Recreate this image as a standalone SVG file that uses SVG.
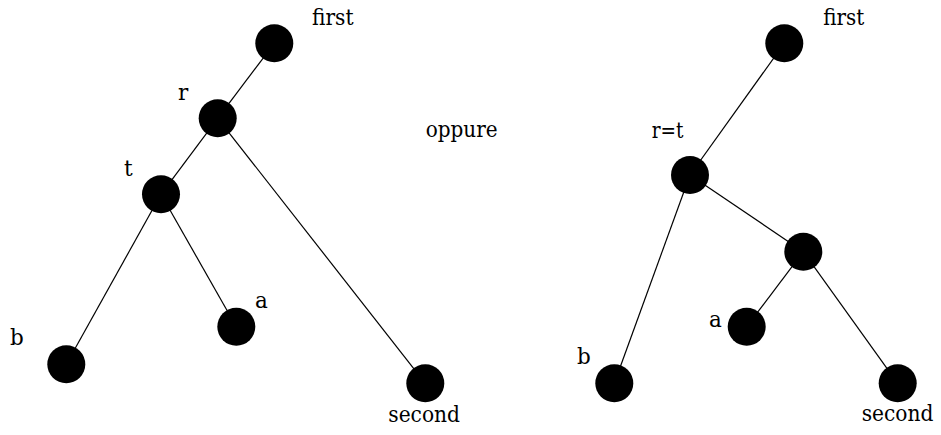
<svg xmlns="http://www.w3.org/2000/svg" width="941" height="435" viewBox="0 0 941 435">
<style>
.n{fill:#000}
.e line{stroke:#000;stroke-width:1.2}
.t text{font-family:"DejaVu Serif","Liberation Serif",serif;font-size:21.5px;fill:#000}
</style>
<rect width="941" height="435" fill="#fff"/>
<g class="e" id="connectors">
<line x1="274.3" y1="43.3" x2="217.7" y2="118.3"/>
<line x1="217.7" y1="118.3" x2="161" y2="194.3"/>
<line x1="217.7" y1="118.3" x2="425.3" y2="383.3"/>
<line x1="161" y1="194.3" x2="66.3" y2="364.3"/>
<line x1="161" y1="194.3" x2="236.3" y2="326.7"/>
<line x1="784.3" y1="43.3" x2="690" y2="175"/>
<line x1="690" y1="175" x2="614.3" y2="383.3"/>
<line x1="690" y1="175" x2="803.3" y2="251.7"/>
<line x1="803.3" y1="251.7" x2="746.7" y2="326.7"/>
<line x1="803.3" y1="251.7" x2="897.7" y2="383.3"/>
</g>
<g class="t">
<g id="L-first"><circle class="n" cx="274.3" cy="43.3" r="19"/><text x="312" y="25" textLength="41.5" lengthAdjust="spacingAndGlyphs">first</text></g>
<g id="L-r"><circle class="n" cx="217.7" cy="118.3" r="19"/><text x="178" y="100">r</text></g>
<g id="L-t"><circle class="n" cx="161" cy="194.3" r="19"/><text x="124" y="175.5">t</text></g>
<g id="L-a"><circle class="n" cx="236.3" cy="326.7" r="19"/><text x="255" y="308">a</text></g>
<g id="L-b"><circle class="n" cx="66.3" cy="364.3" r="19"/><text x="10" y="345">b</text></g>
<g id="L-second"><circle class="n" cx="425.3" cy="383.3" r="19"/><text x="388.3" y="421.5" textLength="71.7" lengthAdjust="spacingAndGlyphs">second</text></g>
<text id="oppure" x="425.7" y="137" textLength="72" lengthAdjust="spacingAndGlyphs">oppure</text>
<g id="R-first"><circle class="n" cx="784.3" cy="43.3" r="19"/><text x="823.3" y="25" textLength="41" lengthAdjust="spacingAndGlyphs">first</text></g>
<g id="R-rt"><circle class="n" cx="690" cy="175" r="19"/><text x="651.7" y="137.5" textLength="31.7" lengthAdjust="spacingAndGlyphs">r=t</text></g>
<g id="R-mid"><circle class="n" cx="803.3" cy="251.7" r="19"/></g>
<g id="R-a"><circle class="n" cx="746.7" cy="326.7" r="19"/><text x="709" y="327">a</text></g>
<g id="R-b"><circle class="n" cx="614.3" cy="383.3" r="19"/><text x="577" y="364">b</text></g>
<g id="R-second"><circle class="n" cx="897.7" cy="383.3" r="19"/><text x="861.7" y="421" textLength="71.7" lengthAdjust="spacingAndGlyphs">second</text></g>
</g>
</svg>
